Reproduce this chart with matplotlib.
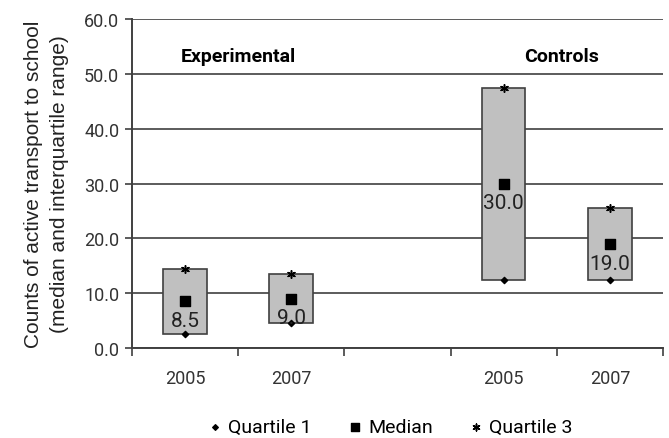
import matplotlib
matplotlib.use("Agg")
import matplotlib.pyplot as plt
import numpy as np

# Data
tick_labels = ["2005", "2007", "", "2005", "2007"]
positions = [0, 1, 3, 4]
quartile1 = [2.5, 4.5, 12.5, 12.5]
median = [8.5, 9.0, 30.0, 19.0]
quartile3 = [14.5, 13.5, 47.5, 25.5]
groups = ["Experimental", "Controls"]
group_x = [0.5, 3.55]

TICK_FONT = "Roboto"

fig = plt.figure(figsize=(6.69, 4.39), dpi=100)
ax = fig.add_axes([0.197, 0.205, 0.794, 0.749])

# Boxes spanning quartile 1 to quartile 3
heights = [q3 - q1 for q1, q3 in zip(quartile1, quartile3)]
ax.bar(positions, heights, bottom=quartile1, width=0.41, color="#c0c0c0",
       edgecolor="#404040", linewidth=1.2, zorder=2)

ax.scatter(positions, quartile1, marker="D", s=10, color="black", zorder=3,
           label="Quartile 1")
ax.scatter(positions, median, marker="s", s=45, color="black", zorder=3,
           label="Median")
ax.scatter(positions, quartile3, marker=(6, 2, 0), s=30, color="black",
           linewidths=1.1, zorder=3, label="Quartile 3")

# Median value labels
for x, m in zip(positions, median):
    ax.annotate(f"{m:.1f}", (x, m), textcoords="offset points", xytext=(0, -7),
                ha="center", va="top", fontsize=15, family=TICK_FONT,
                color="#222222", zorder=4)

# Group titles
for gx, g in zip(group_x, groups):
    ax.text(gx, 53.3, g, ha="center", va="center", fontsize=14,
            fontweight="bold", family=TICK_FONT)

ax.set_ylim(0, 60)
ax.set_xlim(-0.5, 4.5)
ax.set_yticks(np.arange(0, 61, 10))
ax.set_yticklabels([f"{v:.1f}" for v in np.arange(0, 61, 10)],
                   fontsize=13, family=TICK_FONT, color="#333333")
ax.yaxis.grid(True, color="#404040", linewidth=1.2, zorder=0)
ax.set_axisbelow(True)

# Category labels between boundary ticks
ax.set_xticks(np.arange(-0.5, 4.6, 1))
ax.set_xticklabels([])
ax.set_xticks(range(len(tick_labels)), minor=True)
ax.set_xticklabels(tick_labels, minor=True, fontsize=13, family=TICK_FONT,
                   color="#333333")
ax.tick_params(axis="x", which="major", length=6, width=1.2, color="#404040")
ax.tick_params(axis="x", which="minor", length=0, pad=15)
ax.tick_params(axis="y", length=5, width=1.2, color="#404040", pad=4)

for side in ["top", "right"]:
    ax.spines[side].set_visible(False)
for side in ["left", "bottom"]:
    ax.spines[side].set_color("#404040")
    ax.spines[side].set_linewidth(1.4)

ax.set_ylabel("Counts of active transport to school\n(median and interquartile range)",
              fontsize=15, family="Liberation Sans", color="#222222",
              labelpad=11, linespacing=1.45)

fig.legend(loc="lower center", bbox_to_anchor=(0.58, -0.035), ncol=3,
           frameon=False, prop={"family": TICK_FONT, "size": 14},
           handletextpad=0.1, columnspacing=1.6, markerscale=0.9,
           handlelength=1.2)

fig.savefig("out.png", dpi=100)
